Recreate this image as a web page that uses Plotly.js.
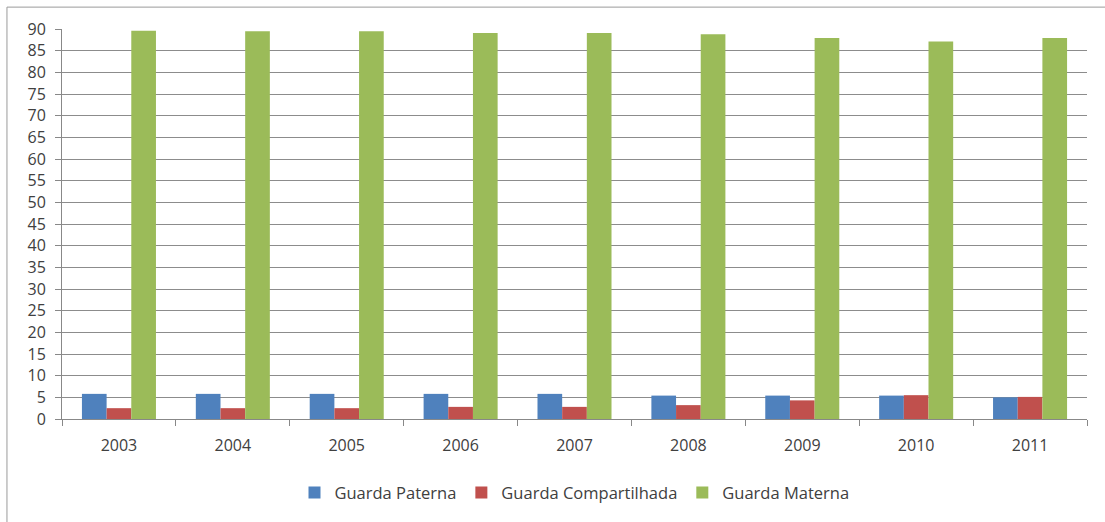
<!DOCTYPE html>
<html>
<head>
<meta charset="utf-8">
<script src="https://cdn.plot.ly/plotly-3.0.1.min.js"></script>
<style>html,body{margin:0;padding:0;background:#fff;}#chart{width:1105px;height:522px;}</style>
</head>
<body>
<div id="chart"></div>
<script>
const years = ['2003','2004','2005','2006','2007','2008','2009','2010','2011'];
const paterna = [5.8, 5.8, 5.8, 5.8, 5.8, 5.4, 5.4, 5.4, 5.0];
const compartilhada = [2.5, 2.5, 2.5, 2.8, 2.8, 3.2, 4.3, 5.5, 5.1];
const materna = [89.6, 89.5, 89.5, 89.1, 89.1, 88.8, 87.9, 87.1, 87.9];
const seriesNames = ['Guarda Paterna', 'Guarda Compartilhada', 'Guarda Materna'];
const yTicks = [0,5,10,15,20,25,30,35,40,45,50,55,60,65,70,75,80,85,90];

const colors = ['#4F81BD', '#C0504D', '#9BBB59'];
const data = [paterna, compartilhada, materna].map((v, i) => ({
  type: 'bar', x: years, y: v, name: seriesNames[i],
  marker: {color: colors[i]}
}));

const fam = '"Open Sans", Lato, sans-serif';
const layout = {
  width: 1105, height: 522,
  margin: {l: 62, r: 18, t: 29, b: 101},
  paper_bgcolor: '#fff', plot_bgcolor: '#fff',
  font: {family: fam, size: 16, color: '#404040'},
  barmode: 'group', bargap: 0.35, bargroupgap: 0,
  showlegend: true,
  legend: {orientation: 'h', x: 0.5, xanchor: 'center', y: -0.189, yanchor: 'middle',
           font: {family: fam, size: 16.5, color: '#404040'}, itemwidth: 30, traceorder: 'normal'},
  xaxis: {
    type: 'category', showgrid: false, showline: true, linecolor: '#888', linewidth: 1,
    ticks: 'outside', tickson: 'boundaries', ticklen: 6, tickcolor: '#888',
    ticklabelstandoff: 12,
    tickfont: {family: fam, size: 16, color: '#404040'}, fixedrange: true
  },
  yaxis: {
    range: [0, 90], tickvals: yTicks, ticktext: yTicks.map(String),
    showgrid: true, gridcolor: '#8c8c8c', gridwidth: 1,
    showline: true, linecolor: '#888', linewidth: 1, zeroline: false,
    ticks: 'outside', ticklen: 6, tickcolor: '#888',
    ticklabelstandoff: 6,
    tickfont: {family: fam, size: 16, color: '#404040'}, fixedrange: true
  },
  shapes: [{
    type: 'rect', xref: 'paper', yref: 'paper',
    x0: -0.0537, x1: 1.05, y0: -0.27, y1: 1.0561,
    line: {color: '#9a9a9a', width: 1}, fillcolor: 'rgba(0,0,0,0)', layer: 'below'
  }]
};

Plotly.newPlot('chart', data, layout, {displayModeBar: false, staticPlot: true});
</script>
</body>
</html>
